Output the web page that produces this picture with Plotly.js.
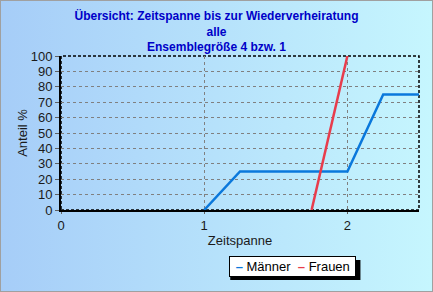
<!DOCTYPE html>
<html><head><meta charset="utf-8">
<script src="https://cdn.plot.ly/plotly-3.0.1.min.js"></script>
<style>
html,body{margin:0;padding:0;}
#wrap{width:431px;height:290px;border:1px solid #a0a0a0;background:linear-gradient(to right,#a6cdf8,#c6f6fe);position:relative;}
#chart{width:433px;height:292px;position:absolute;left:-1px;top:-1px;}
</style></head>
<body><div id="wrap"><div id="chart"></div></div>
<script>
const titleLines = ["Übersicht: Zeitspanne bis zur Wiederverheiratung","alle","Ensemblegröße 4 bzw. 1"];
const seriesNames = ["Männer", "Frauen"];
const seriesColors = ["#0a78dc", "#e83c4c"];
const maennerX = [1, 1.25, 2, 2.25, 2.5];
const maennerY = [0, 25, 25, 75, 75];
const frauenX = [1.75, 2];
const frauenY = [0, 100];
const xTicks = [0, 1, 2];
const yTicks = [0,10,20,30,40,50,60,70,80,90,100];

const traces = [
 {x: maennerX, y: maennerY, mode:'lines', name:seriesNames[0], line:{color:seriesColors[0], width:2.5}},
 {x: frauenX, y: frauenY, mode:'lines', name:seriesNames[1], line:{color:seriesColors[1], width:2.5}}
];
const legendText = '&nbsp;' + seriesNames.map((n,i)=>`<span style="color:${seriesColors[i]}"><b>–</b></span>&nbsp;${n}`).join('&nbsp; ') + '&nbsp;';
const layout = {
 width:433, height:292,
 margin:{l:61, r:14, t:56, b:82},
 paper_bgcolor:'rgba(0,0,0,0)', plot_bgcolor:'rgba(0,0,0,0)',
 font:{family:'Arial, Liberation Sans', size:13, color:'#1a1a1a'},
 title:{text:titleLines.join('<br>'), font:{family:'Arial, Liberation Sans', size:12, color:'#0000c8', weight:'bold'}, x:0.5, xanchor:'center', yref:'container', y:0.931, yanchor:'top'},
 xaxis:{range:[0,2.5], tickvals:xTicks, ticktext:xTicks.map(String), showgrid:true, gridcolor:'#808080', griddash:'3px,3px', gridwidth:1,
   showline:true, linecolor:'#000', linewidth:2, ticks:'outside', ticklen:2, tickcolor:'#606060', zeroline:false, ticklabelstandoff:0,
   title:{text:'Zeitspanne', font:{size:13}, standoff:4}, automargin:false},
 yaxis:{range:[0,100], tickvals:yTicks, showgrid:true, gridcolor:'#808080', griddash:'3px,3px', gridwidth:1,
   showline:true, linecolor:'#000', linewidth:2, ticks:'outside', ticklen:4, tickcolor:'#606060', zeroline:false,
   title:{text:'Anteil %', font:{size:13}, standoff:0}, automargin:true},
 showlegend:false,
 annotations:[
   {xref:'paper', yref:'paper', x:0.6462, y:-0.3701, xanchor:'center', yanchor:'middle', showarrow:false, text:legendText, font:{size:13, color:'#000'}, bgcolor:'#fff', bordercolor:'#000', borderwidth:1, borderpad:2}
 ],
 shapes:[
   {type:'rect', xref:'paper', yref:'paper', x0:0, x1:1, y0:0, y1:1, line:{color:'#000', width:1.5, dash:'3px,2px'}, layer:'below'},
   {type:'rect', xref:'paper', yref:'paper', x0:0.4727, x1:0.8364, y0:-0.3247, y1:-0.4545, fillcolor:'#000', line:{width:0}, layer:'above'}
 ]
};
Plotly.newPlot('chart', traces, layout, {displayModeBar:false, staticPlot:true});
</script></body></html>
